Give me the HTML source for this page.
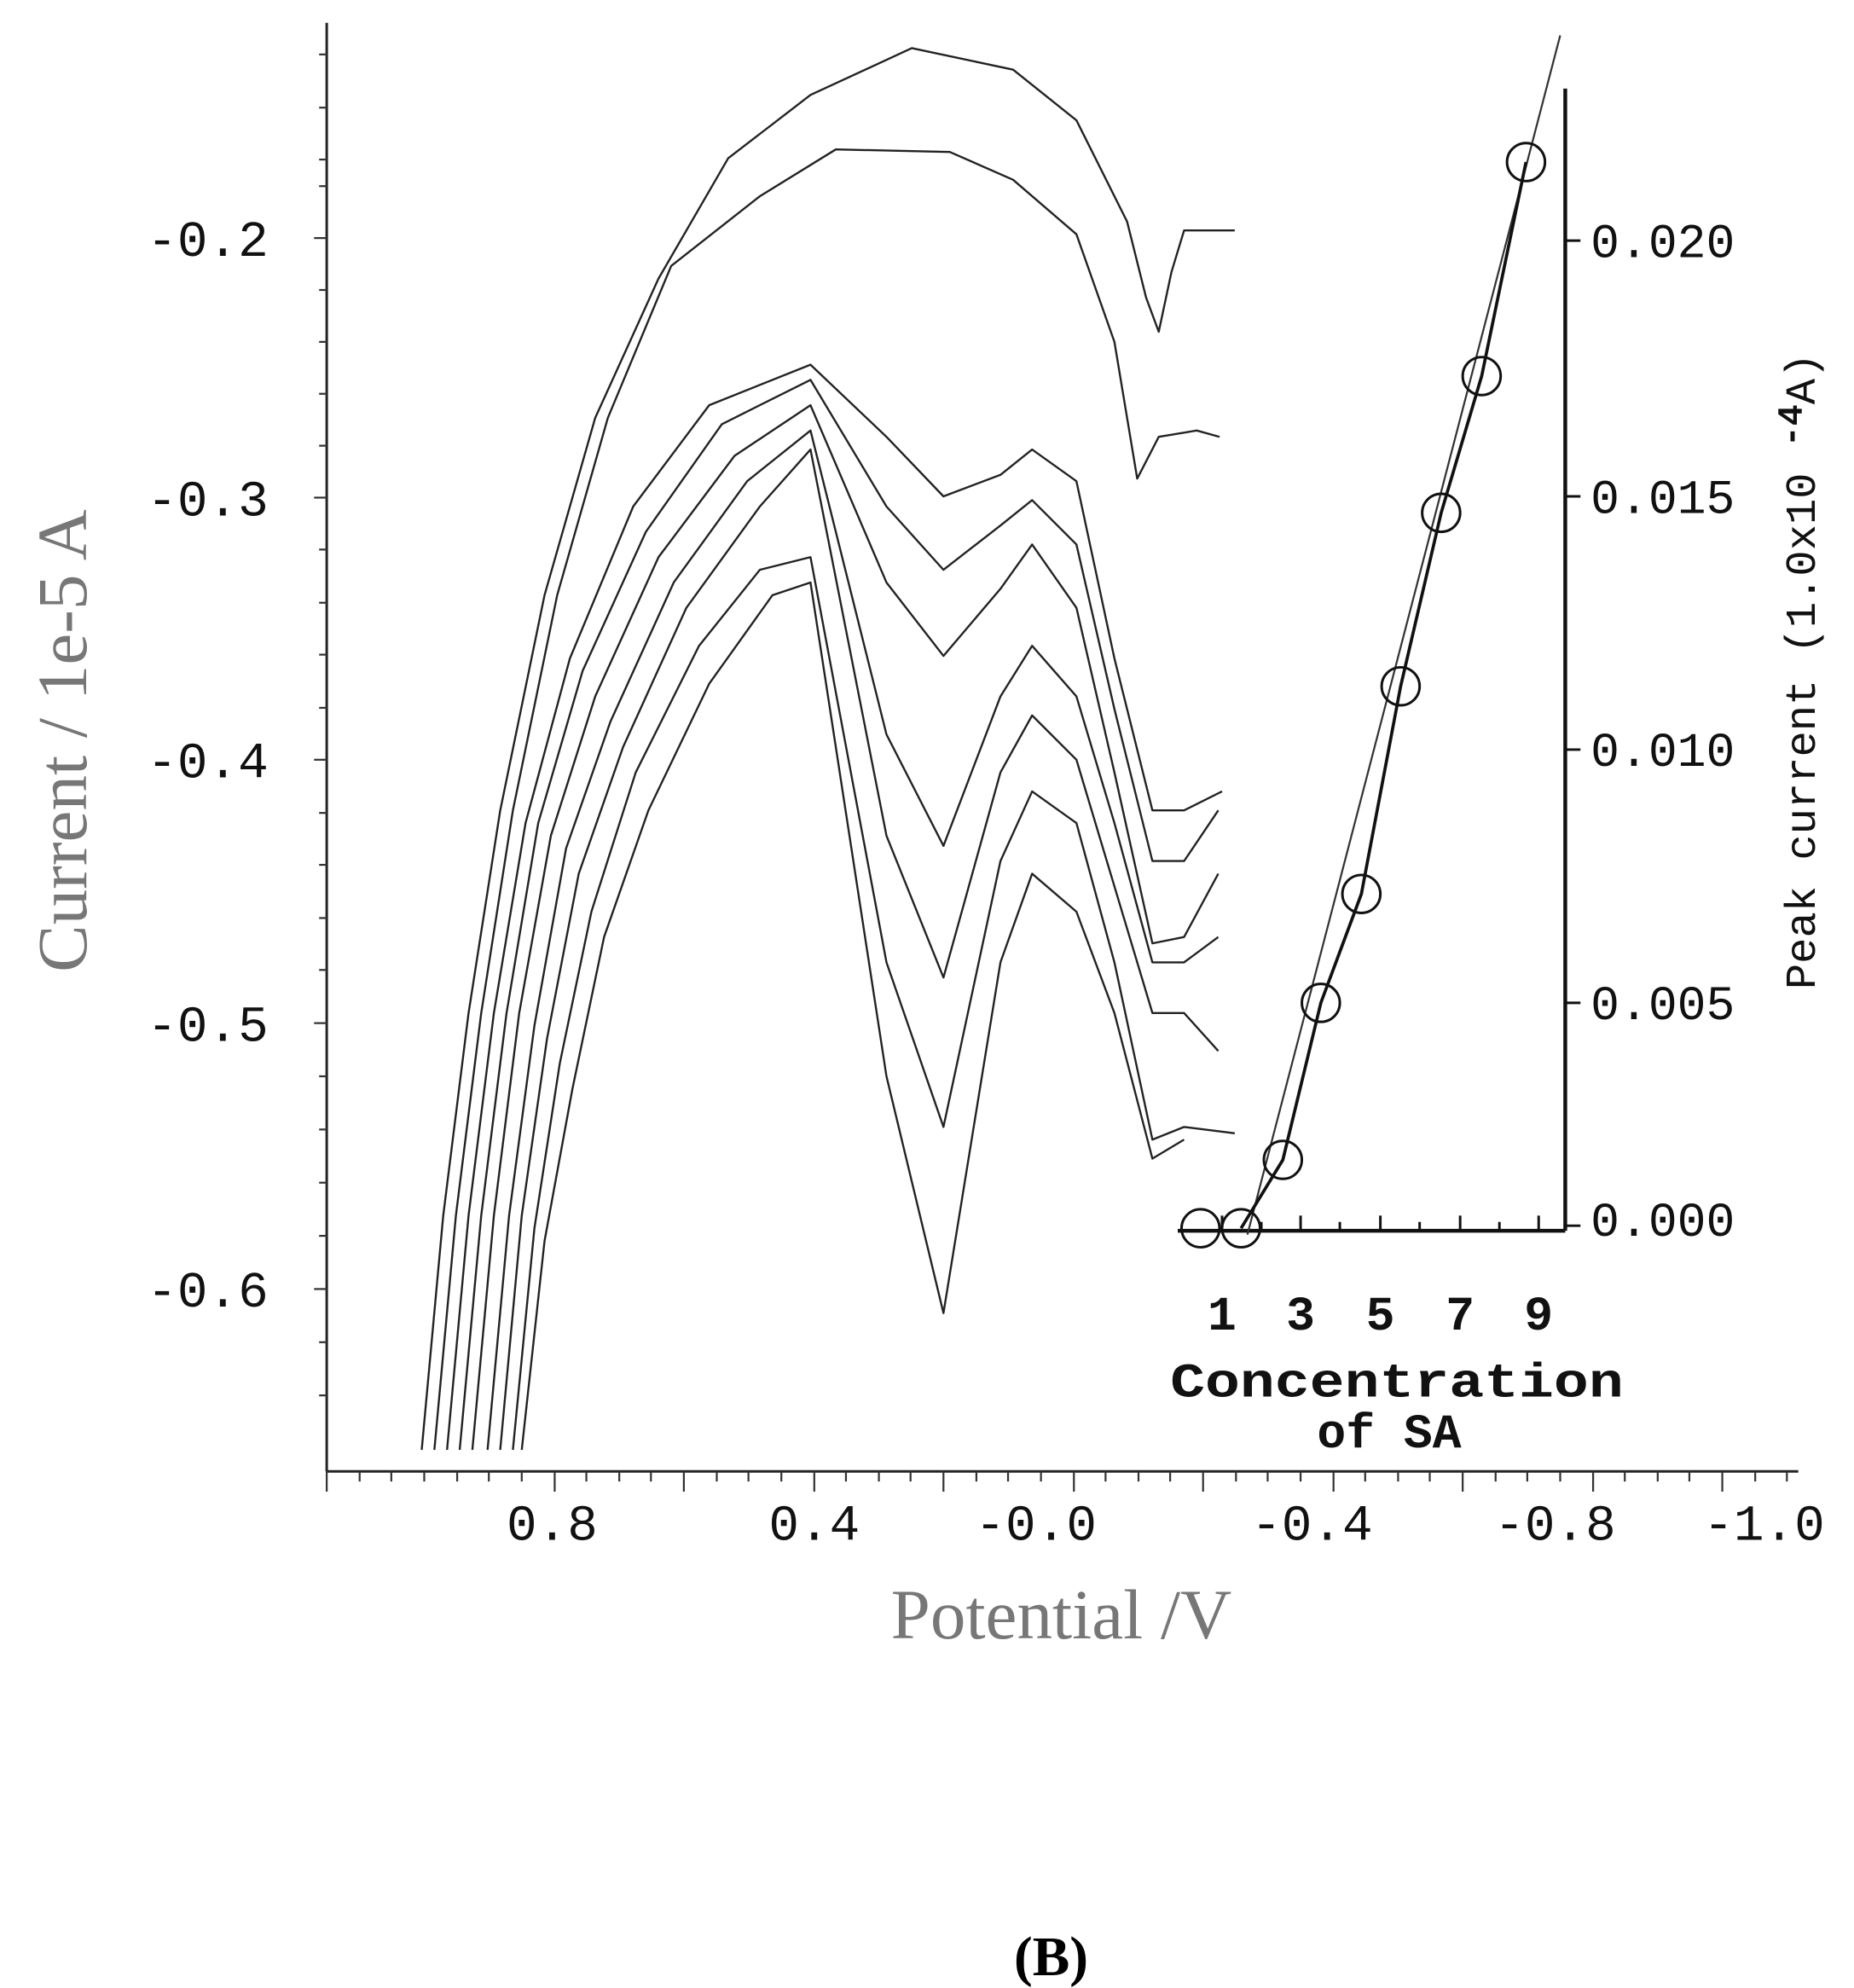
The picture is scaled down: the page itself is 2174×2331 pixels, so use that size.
<!DOCTYPE html>
<html><head><style>html,body{margin:0;padding:0;background:#fff}svg{display:block}</style></head>
<body>
<svg width="2174" height="2331" viewBox="0 0 1464 1570" preserveAspectRatio="none" xmlns="http://www.w3.org/2000/svg">
<rect width="1464" height="1570" fill="#fff"/>
<g stroke="#222" stroke-width="2" fill="none">
<line x1="258" y1="18" x2="258" y2="1162"/>
<line x1="258" y1="1162" x2="1420" y2="1162"/>
</g>
<g font-family="Liberation Mono, monospace" font-size="40" fill="#111" text-anchor="end">
<text x="212" y="202">-0.2</text>
<text x="212" y="407">-0.3</text>
<text x="212" y="614">-0.4</text>
<text x="212" y="822">-0.5</text>
<text x="212" y="1032">-0.6</text>
</g>
<g font-family="Liberation Mono, monospace" font-size="40" fill="#111" text-anchor="middle">
<text x="436" y="1216">0.8</text>
<text x="643" y="1216">0.4</text>
<text x="818" y="1216">-0.0</text>
<text x="1036" y="1216">-0.4</text>
<text x="1228" y="1216">-0.8</text>
<text x="1393" y="1216">-1.0</text>
</g>
<text x="838" y="1294" font-family="Liberation Serif, serif" font-size="56" fill="#777" text-anchor="middle">Potential /V</text>
<text transform="translate(68,585) rotate(-90)" font-family="Liberation Serif, serif" font-size="56" fill="#777" text-anchor="middle">Current / 1e-5 A</text>
<text x="830" y="1560" font-family="Liberation Serif, serif" font-size="44" font-weight="bold" text-anchor="middle">(B)</text>

<g stroke="#222" stroke-width="1.6" fill="none" stroke-linejoin="round">
<polyline points="333,1145 350,960 370,800 395,640 430,470 470,330 520,220 575,125 640,75 720,38 800,55 850,95 890,175 905,235 915,262 925,215 935,182 975,182"/>
<polyline points="343,1145 360,960 380,800 405,640 440,470 480,330 530,210 600,155 660,118 750,120 800,142 850,185 880,270 898,378 915,345 945,340 963,345"/>
<polyline points="353,1145 370,960 390,800 415,650 450,520 500,400 560,320 640,288 700,345 745,392 790,375 815,355 850,380 880,520 910,640 935,640 965,625"/>
<polyline points="363,1145 380,960 400,800 425,650 460,530 510,420 570,335 640,300 700,400 745,450 790,415 815,395 850,430 880,560 910,680 935,680 962,640"/>
<polyline points="373,1145 390,960 410,800 435,660 470,550 520,440 580,360 640,320 700,460 745,518 790,465 815,430 850,480 880,610 910,745 935,740 962,690"/>
<polyline points="385,1145 402,960 422,810 447,670 482,570 532,460 590,380 640,340 700,580 745,668 790,550 815,510 850,550 880,650 910,760 935,760 962,740"/>
<polyline points="395,1145 412,960 432,820 457,690 492,590 542,480 600,400 640,355 700,660 745,772 790,610 815,565 850,600 880,700 910,800 935,800 962,830"/>
<polyline points="405,1145 422,970 442,840 467,720 502,610 552,510 600,450 640,440 700,760 745,890 790,680 815,625 850,650 880,760 910,900 935,890 975,895"/>
<polyline points="412,1145 430,980 452,860 477,740 512,640 560,540 610,470 640,460 700,850 745,1037 790,760 815,690 850,720 880,800 910,915 935,900"/>
</g>

<g stroke="#111" stroke-width="3" fill="none">
<line x1="1236" y1="70" x2="1236" y2="972"/>
<line x1="930" y1="972" x2="1236" y2="972"/>
</g>
<g stroke="#111" stroke-width="2">
<line x1="1236" y1="190" x2="1248" y2="190"/><line x1="1236" y1="392" x2="1248" y2="392"/>
<line x1="1236" y1="592" x2="1248" y2="592"/><line x1="1236" y1="792" x2="1248" y2="792"/>
<line x1="1236" y1="968" x2="1248" y2="968"/>
<line x1="965" y1="960" x2="965" y2="972"/><line x1="1027" y1="960" x2="1027" y2="972"/>
<line x1="1090" y1="960" x2="1090" y2="972"/><line x1="1153" y1="960" x2="1153" y2="972"/>
<line x1="1215" y1="960" x2="1215" y2="972"/>
<line x1="996" y1="965" x2="996" y2="972"/><line x1="1058" y1="965" x2="1058" y2="972"/>
<line x1="1121" y1="965" x2="1121" y2="972"/><line x1="1184" y1="965" x2="1184" y2="972"/>
</g>
<g font-family="Liberation Mono, monospace" font-size="38" fill="#111">
<text x="1256" y="203">0.020</text><text x="1256" y="405">0.015</text>
<text x="1256" y="605">0.010</text><text x="1256" y="805">0.005</text>
<text x="1256" y="976">0.000</text>
</g>
<g font-family="Liberation Mono, monospace" font-size="38" fill="#111" text-anchor="middle" font-weight="bold">
<text x="965" y="1050">1</text><text x="1027" y="1050">3</text><text x="1090" y="1050">5</text>
<text x="1153" y="1050">7</text><text x="1215" y="1050">9</text>
<text x="1103" y="1103" textLength="358" lengthAdjust="spacingAndGlyphs">Concentration</text>
<text x="1097" y="1143">of SA</text>
</g>
<text transform="translate(1433,530) rotate(-90)" font-family="Liberation Mono, monospace" font-size="34" fill="#111" text-anchor="middle">Peak current (1.0x10 <tspan dy="-10" font-size="28" font-weight="bold">-4</tspan><tspan dy="10">A)</tspan></text>
<line x1="985" y1="975" x2="1232" y2="28" stroke="#333" stroke-width="1.5"/>
<polyline points="980,970 1013,916 1043,792 1075,706 1106,542 1138,405 1170,297 1205,128" fill="none" stroke="#111" stroke-width="2.5"/>
<g fill="none" stroke="#111" stroke-width="2">
<circle cx="948" cy="970" r="15"/><circle cx="980" cy="970" r="15"/><circle cx="1013" cy="916" r="15"/>
<circle cx="1043" cy="792" r="15"/><circle cx="1075" cy="706" r="15"/><circle cx="1106" cy="542" r="15"/>
<circle cx="1138" cy="405" r="15"/><circle cx="1170" cy="297" r="15"/><circle cx="1205" cy="128" r="15"/>
</g>
<g stroke="#333" stroke-width="1.5">
<line x1="248" y1="188" x2="258" y2="188"/><line x1="248" y1="393" x2="258" y2="393"/>
<line x1="248" y1="600" x2="258" y2="600"/><line x1="248" y1="808" x2="258" y2="808"/>
<line x1="248" y1="1018" x2="258" y2="1018"/>
<line x1="252" y1="43" x2="258" y2="43"/><line x1="252" y1="85" x2="258" y2="85"/><line x1="252" y1="126" x2="258" y2="126"/><line x1="252" y1="147" x2="258" y2="147"/>
<line x1="252" y1="229" x2="258" y2="229"/><line x1="252" y1="270" x2="258" y2="270"/><line x1="252" y1="311" x2="258" y2="311"/><line x1="252" y1="352" x2="258" y2="352"/>
<line x1="252" y1="434" x2="258" y2="434"/><line x1="252" y1="476" x2="258" y2="476"/><line x1="252" y1="517" x2="258" y2="517"/><line x1="252" y1="559" x2="258" y2="559"/>
<line x1="252" y1="642" x2="258" y2="642"/><line x1="252" y1="683" x2="258" y2="683"/><line x1="252" y1="725" x2="258" y2="725"/><line x1="252" y1="766" x2="258" y2="766"/>
<line x1="252" y1="850" x2="258" y2="850"/><line x1="252" y1="892" x2="258" y2="892"/><line x1="252" y1="934" x2="258" y2="934"/><line x1="252" y1="976" x2="258" y2="976"/>
<line x1="252" y1="1060" x2="258" y2="1060"/><line x1="252" y1="1102" x2="258" y2="1102"/>
</g>
<g stroke="#333" stroke-width="1.5">
<line x1="258" y1="1162" x2="258" y2="1178"/><line x1="284" y1="1162" x2="284" y2="1170"/><line x1="309" y1="1162" x2="309" y2="1170"/><line x1="335" y1="1162" x2="335" y2="1170"/><line x1="361" y1="1162" x2="361" y2="1170"/><line x1="386" y1="1162" x2="386" y2="1170"/><line x1="412" y1="1162" x2="412" y2="1170"/><line x1="438" y1="1162" x2="438" y2="1178"/><line x1="463" y1="1162" x2="463" y2="1170"/><line x1="489" y1="1162" x2="489" y2="1170"/><line x1="514" y1="1162" x2="514" y2="1170"/><line x1="540" y1="1162" x2="540" y2="1178"/><line x1="566" y1="1162" x2="566" y2="1170"/><line x1="591" y1="1162" x2="591" y2="1170"/><line x1="617" y1="1162" x2="617" y2="1170"/><line x1="643" y1="1162" x2="643" y2="1178"/><line x1="668" y1="1162" x2="668" y2="1170"/><line x1="694" y1="1162" x2="694" y2="1170"/><line x1="719" y1="1162" x2="719" y2="1170"/><line x1="745" y1="1162" x2="745" y2="1178"/><line x1="771" y1="1162" x2="771" y2="1170"/><line x1="796" y1="1162" x2="796" y2="1170"/><line x1="822" y1="1162" x2="822" y2="1170"/><line x1="848" y1="1162" x2="848" y2="1178"/><line x1="873" y1="1162" x2="873" y2="1170"/><line x1="899" y1="1162" x2="899" y2="1170"/><line x1="924" y1="1162" x2="924" y2="1170"/><line x1="950" y1="1162" x2="950" y2="1178"/><line x1="976" y1="1162" x2="976" y2="1170"/><line x1="1001" y1="1162" x2="1001" y2="1170"/><line x1="1027" y1="1162" x2="1027" y2="1170"/><line x1="1053" y1="1162" x2="1053" y2="1178"/><line x1="1078" y1="1162" x2="1078" y2="1170"/><line x1="1104" y1="1162" x2="1104" y2="1170"/><line x1="1129" y1="1162" x2="1129" y2="1170"/><line x1="1155" y1="1162" x2="1155" y2="1178"/><line x1="1181" y1="1162" x2="1181" y2="1170"/><line x1="1206" y1="1162" x2="1206" y2="1170"/><line x1="1232" y1="1162" x2="1232" y2="1170"/><line x1="1258" y1="1162" x2="1258" y2="1178"/><line x1="1283" y1="1162" x2="1283" y2="1170"/><line x1="1309" y1="1162" x2="1309" y2="1170"/><line x1="1334" y1="1162" x2="1334" y2="1170"/><line x1="1360" y1="1162" x2="1360" y2="1178"/><line x1="1386" y1="1162" x2="1386" y2="1170"/><line x1="1411" y1="1162" x2="1411" y2="1170"/>
</g>
</svg>
</body></html>
